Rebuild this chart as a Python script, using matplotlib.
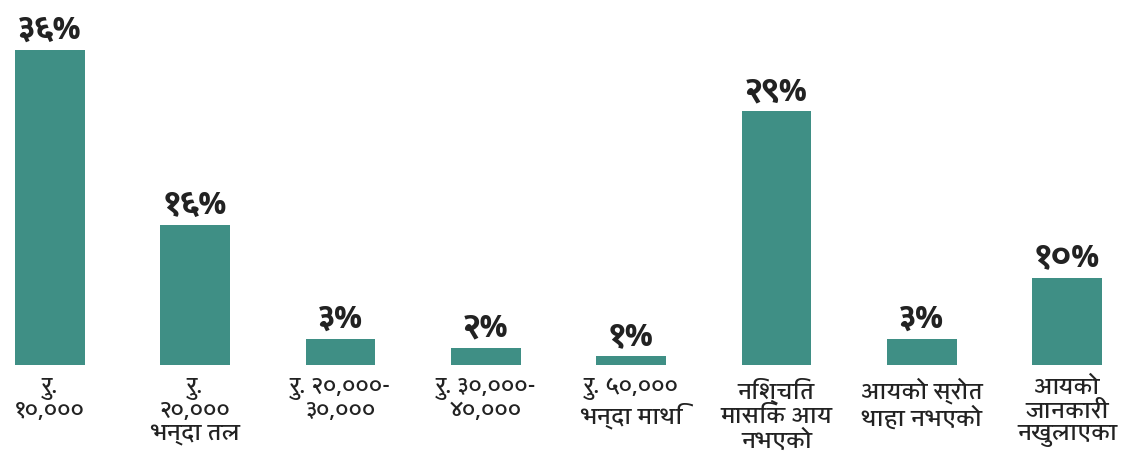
import matplotlib
matplotlib.use("Agg")
import matplotlib.pyplot as plt

plt.rcParams['font.family'] = ['Khula', 'DejaVu Sans']

categories = [
    "रु.\n१०,०००",
    "रु.\n२०,०००\nभन्दा तल",
    "रु. २०,०००-\n३०,०००",
    "रु. ३०,०००-\n४०,०००",
    "रु. ५०,०००\nभन्दा माथि",
    "निश्चित\nमासिक आय\nनभएको",
    "आयको स्रोत\nथाहा नभएको",
    "आयको\nजानकारी\nनखुलाएका",
]
values = [36, 16, 3, 2, 1, 29, 3, 10]
value_labels = ["३६%", "१६%", "३%", "२%", "१%", "२९%", "३%", "१०%"]

fig = plt.figure(figsize=(11.31, 4.61), dpi=100)
ax = fig.add_axes([0, 96 / 461, 1, 350 / 461])

x = list(range(len(values)))
bars = ax.bar(x, values, width=0.48, color="#3f8f85")

# value labels sit just above each bar
for xi, v, lab in zip(x, values, value_labels):
    ax.annotate(lab, (xi, v), xytext=(0, 3), textcoords="offset points",
                ha="center", va="bottom", fontsize=24, fontweight="bold",
                color="#222222")

ax.set_xlim(-0.344, 7.44)
ax.set_ylim(0, 40)
ax.set_xticks(x)
ax.set_xticklabels(categories, fontsize=16.5, fontweight="semibold",
                   color="#222222", linespacing=1.12)
ax.tick_params(axis="x", length=0, pad=9)
ax.set_yticks([])
for s in ax.spines.values():
    s.set_visible(False)

fig.savefig("out.png", dpi=100)
